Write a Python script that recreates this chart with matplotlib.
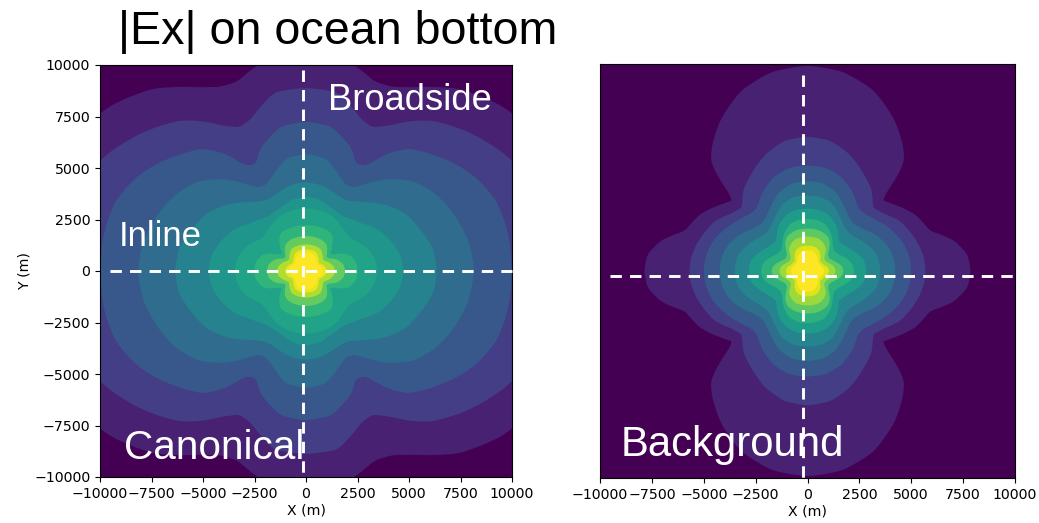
import numpy as np
import matplotlib
matplotlib.use("Agg")
import matplotlib.pyplot as plt
from matplotlib.lines import Line2D

# contour radii read off 3x crops of the reference, one row per level (outer to inner),
# one column per angle from the x axis, in crop pixels
M_PER_PX = 16.15

left_angles = [0, 10, 20, 25, 30, 35, 40, 50, 55, 60, 65, 70, 80, 90]
left_radii = [
    [860, 850, 830, 818, 805, 788, 770, 715, 675, 637, 610, 605, 650, 670],
    [760, 750, 730, 713, 695, 670, 645, 590, 550, 505, 475, 485, 545, 550],
    [618, 618, 610, 595, 578, 555, 530, 480, 432, 365, 355, 395, 440, 449],
    [505, 497, 478, 467, 455, 438, 420, 358, 320, 290, 285, 300, 343, 352],
    [393, 388, 365, 355, 345, 328, 310, 270, 255, 245, 245, 250, 262, 267],
    [293, 287, 270, 260, 250, 236, 222, 205, 200, 200, 203, 207, 219, 223],
    [215, 210, 198, 188, 178, 168, 165, 170, 175, 180, 183, 185, 188, 188],
    [156, 153, 140, 125, 100, 88, 100, 125, 135, 138, 138, 138, 138, 138],
    [118, 114, 100, 88, 76, 75, 82, 98, 102, 104, 105, 105, 105, 105],
    [88, 84, 74, 68, 63, 62, 66, 74, 78, 80, 80, 80, 80, 80],
    [63, 60, 54, 50, 47, 47, 50, 56, 60, 63, 64, 65, 65, 65],
    [50, 49, 45, 42, 40, 40, 42, 46, 50, 52, 54, 55, 56, 56],
]
left_shades = [0, 0.09, 0.18, 0.27, 0.35, 0.44, 0.52, 0.58, 0.65, 0.76, 0.88, 0.97, 1.0]

right_angles = [0, 6, 12, 18, 28, 37, 44, 48, 52, 60, 70, 80, 90]
right_radii = [
    [487, 480, 445, 385, 362, 328, 305, 430, 465, 520, 575, 605, 614],
    [352, 350, 343, 333, 315, 285, 272, 290, 310, 335, 370, 395, 402],
    [309, 308, 303, 295, 275, 255, 243, 240, 243, 270, 298, 313, 316],
    [262, 261, 257, 250, 230, 208, 198, 198, 202, 220, 250, 266, 269],
    [217, 216, 213, 205, 187, 172, 168, 170, 175, 190, 215, 225, 226],
    [175, 174, 170, 160, 142, 132, 130, 138, 148, 165, 180, 186, 187],
    [139, 137, 132, 122, 105, 100, 105, 112, 120, 135, 150, 155, 156],
    [107, 105, 98, 88, 76, 76, 88, 98, 108, 120, 125, 127, 127],
    [84, 82, 78, 70, 62, 62, 72, 82, 88, 96, 102, 103, 103],
    [64, 63, 60, 54, 50, 48, 52, 58, 62, 70, 75, 76, 76],
    [50, 49, 47, 44, 41, 41, 43, 46, 49, 54, 60, 62, 62],
]
right_shades = [0, 0.09, 0.18, 0.27, 0.36, 0.45, 0.55, 0.64, 0.75, 0.85, 0.95, 1.0]

ticks = [-10000, -7500, -5000, -2500, 0, 2500, 5000, 7500, 10000]


def outline(angles, radii):
    # mirror the quadrant to a full turn, then soften the corners
    theta = np.arange(0, 360, 0.5)
    folded = np.abs((theta + 90) % 180 - 90)
    r = np.interp(folded, angles, radii)
    kernel = np.ones(7) / 7
    r = np.convolve(np.r_[r[-3:], r, r[:3]], kernel, mode="valid")
    t = np.radians(theta)
    return r * M_PER_PX * np.cos(t), r * M_PER_PX * np.sin(t)


def draw_field(ax, angles, table, shades):
    ax.set_facecolor(plt.cm.viridis(shades[0]))
    for radii, shade in zip(table, shades[1:]):
        x, y = outline(angles, radii)
        ax.fill(x, y, color=plt.cm.viridis(shade), lw=0)
    ax.set_xlim(-10000, 10000)
    ax.set_ylim(-10000, 10000)
    ax.set_xticks(ticks)
    ax.tick_params(labelsize=10.2)
    ax.set_xlabel("X (m)", fontsize=10.2, labelpad=2)


W, H = 1039, 523
fig = plt.figure(figsize=(W / 100, H / 100), dpi=100)

ax1 = fig.add_axes([100 / W, 1 - 477 / H, 412 / W, 412 / H])
draw_field(ax1, left_angles, left_radii, left_shades)
ax1.set_yticks(ticks)
ax1.set_ylabel("Y (m)", fontsize=10.2, labelpad=2)

ax2 = fig.add_axes([600 / W, 1 - 478 / H, 415 / W, 414 / H])
draw_field(ax2, right_angles, right_radii, right_shades)
ax2.set_yticks([])


# slide overlay, placed in figure pixels
def dash(x0, y0, x1, y1):
    fig.add_artist(Line2D([x0 / W, x1 / W], [1 - y0 / H, 1 - y1 / H], color="white",
                          lw=2.1, dashes=(3.9, 2.8)))


dash(110, 271, 512, 271)
dash(303, 70, 303, 475)
dash(610, 276, 1015, 276)
dash(803, 75, 803, 478)


def note(x, y, s, size, color="white"):
    fig.text(x / W, 1 - y / H, s, fontsize=size, color=color, family="Liberation Sans",
             ha="left", va="baseline")


note(118, 44, "|Ex| on ocean bottom", 33.6, "black")
note(328, 110, "Broadside", 26.2)
note(119, 246, "Inline", 25)
note(124, 459, "Canonical", 29.2)
note(621, 456, "Background", 30.2)

fig.savefig("out.png", dpi=100)
